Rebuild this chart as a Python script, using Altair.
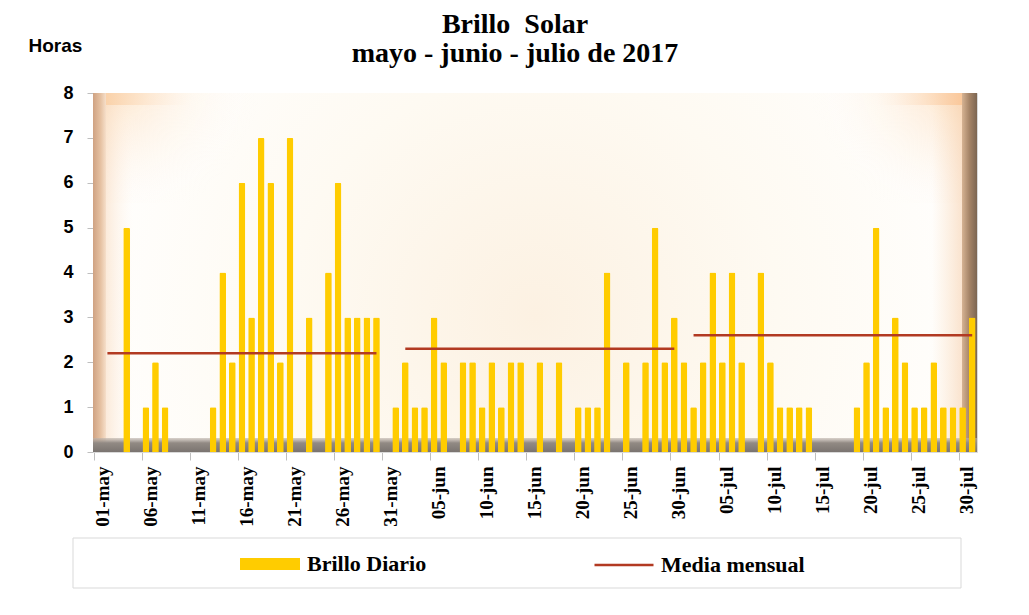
import altair as alt
import pandas as pd

# ---- data ----
meses = ["may", "jun", "jul"]
dias_mes = [31, 30, 31]
mayo = [0, 0, 0, 5, 0, 1, 2, 1, 0, 0, 0, 0, 1, 4, 2, 6, 3, 7, 6, 2, 7, 0, 3, 0, 4, 6, 3, 3, 3, 3, 0]
junio = [1, 2, 1, 1, 3, 2, 0, 2, 2, 1, 2, 1, 2, 2, 0, 2, 0, 2, 0, 1, 1, 1, 4, 0, 2, 0, 2, 5, 2, 3]
julio = [2, 1, 2, 4, 2, 4, 2, 0, 4, 2, 1, 1, 1, 1, 0, 0, 0, 0, 1, 2, 5, 1, 3, 2, 1, 1, 2, 1, 1, 1, 3]

media_inicio = ["02-may", "02-jun", "02-jul"]
media_fin = ["30-may", "30-jun", "31-jul"]
media_valor = [2.2, 2.3, 2.6]

etiquetas = [f"{d:02d}-{m}" for m, n in zip(meses, dias_mes) for d in range(1, n + 1)]
valores = mayo + junio + julio
etiquetas_eje = etiquetas[::5]

df_barras = pd.DataFrame({"dia": etiquetas, "horas": valores, "serie": "Brillo Diario"})
df_media = pd.DataFrame({"inicio": media_inicio, "fin": media_fin, "media": media_valor,
                         "serie": "Media mensual"})
dummy = pd.DataFrame({"k": [0]})

W, H = 884, 359
SERIF = "Liberation Serif"
SANS = "Liberation Sans"


def stops(*pairs):
    return [alt.GradientStop(offset=o, color=c) for o, c in pairs]


def deco(x0, x1, y0, y1, fill, stroke=None):
    kw = {"color": fill}
    if stroke is not None:
        kw["stroke"] = stroke
        kw["strokeWidth"] = 1
    return alt.Chart(dummy).mark_rect(**kw).encode(
        x=alt.value(x0), x2=alt.value(x1), y=alt.value(y0), y2=alt.value(y1))


fondo = deco(0, W, 0, H, alt.RadialGradient(
    gradient="radial", x1=0.5, y1=0.55, r1=0, x2=0.5, y2=0.55, r2=0.55,
    stops=stops((0, "#fcf1e2"), (0.5, "#fefaf2"), (1, "#ffffff"))))
esq_izq = deco(0, 170, 0, 110, alt.RadialGradient(
    gradient="radial", x1=0, y1=0, r1=0, x2=0, y2=0, r2=1,
    stops=stops((0, "rgba(250,205,160,0.95)"), (0.4, "rgba(253,228,200,0.5)"), (1, "rgba(255,255,255,0)"))))
esq_der = deco(W - 170, W, 0, 110, alt.RadialGradient(
    gradient="radial", x1=1, y1=0, r1=0, x2=1, y2=0, r2=1,
    stops=stops((0, "rgba(250,200,150,0.95)"), (0.4, "rgba(253,225,195,0.5)"), (1, "rgba(255,255,255,0)"))))
borde_der_fade = deco(W - 45, W - 15, 0, H, alt.LinearGradient(
    gradient="linear", x1=0, y1=0, x2=1, y2=0,
    stops=stops((0, "rgba(250,215,180,0)"), (1, "rgba(246,205,168,0.55)"))))
borde_izq_fade = deco(13, 40, 0, H, alt.LinearGradient(
    gradient="linear", x1=0, y1=0, x2=1, y2=0,
    stops=stops((0, "rgba(248,218,190,0.55)"), (1, "rgba(255,240,225,0)"))))
bisel_izq = deco(0, 13, 0, H, alt.LinearGradient(
    gradient="linear", x1=0, y1=0, x2=1, y2=0,
    stops=stops((0, "#cfa282"), (0.6, "#e6c2a3"), (1, "#f6dfca"))))
bisel_der = deco(W - 15, W, 0, H, alt.LinearGradient(
    gradient="linear", x1=0, y1=0, x2=1, y2=0,
    stops=stops((0, "#d6b393"), (0.5, "#a58467"), (1, "#7c6652"))))
bisel_sup = deco(13, W - 15, 0, 12, alt.LinearGradient(
    gradient="linear", x1=0, y1=0, x2=1, y2=0,
    stops=stops((0, "rgba(250,210,170,1)"), (0.1, "rgba(255,240,225,0)"),
                (0.9, "rgba(255,240,225,0)"), (1, "rgba(250,200,155,1)"))))
piso = deco(0, W, H - 14, H, alt.LinearGradient(
    gradient="linear", x1=0, y1=0, x2=0, y2=1,
    stops=stops((0, "rgba(190,180,172,0.6)"), (0.35, "#928a84"), (1, "#7a7470"))))
caja_leyenda = deco(-20, 868, 445, 495, "#ffffff", stroke="#d9d9d9")

x_enc = alt.X(
    "dia:N", sort=etiquetas,
    scale=alt.Scale(domain=etiquetas, paddingInner=0.3, paddingOuter=0.15),
    axis=alt.Axis(values=etiquetas_eje, labelAngle=-90, title=None, bandPosition=0,
                  labelOffset=4.8, labelFont=SERIF, labelFontWeight="bold", labelFontSize=19,
                  labelColor="black", labelPadding=6, labelOverlap=False, tickSize=8,
                  tickColor="#bfbfbf", domainColor="#d9d9d9"))

y_enc = alt.Y(
    "horas:Q", scale=alt.Scale(domain=[0, 8], nice=False),
    axis=alt.Axis(values=list(range(0, 9)), title="Horas", titleAngle=0, titleX=-65, titleY=-48,
                  titleAlign="left", titleBaseline="middle", titleFont=SANS, titleFontSize=19,
                  titleFontWeight="bold", titleColor="black", labelFont=SANS,
                  labelFontWeight="bold", labelFontSize=18, labelColor="black", labelPadding=14,
                  tickSize=6, tickColor="#bfbfbf", domainColor="#d9d9d9", grid=False))

barras = alt.Chart(df_barras).mark_bar(cornerRadiusTopLeft=1.5, cornerRadiusTopRight=1.5).encode(
    x=x_enc, y=y_enc,
    color=alt.Color("serie:N", scale=alt.Scale(domain=["Brillo Diario"], range=["#FFCC00"]),
                    legend=alt.Legend(title=None, orient="none", legendX=147, legendY=441,
                                      symbolType="M-1,-0.2H1V0.2H-1Z", symbolSize=3600,
                                      symbolStrokeWidth=0, labelOffset=7, padding=0)))

media = alt.Chart(df_media).mark_rule(strokeWidth=2.5).encode(
    x=alt.X("inicio:N", bandPosition=0.5), x2=alt.X2("fin", bandPosition=0.5),
    y=alt.Y("media:Q"),
    stroke=alt.Stroke("serie:N", scale=alt.Scale(domain=["Media mensual"], range=["#B23A22"]),
                      legend=alt.Legend(title=None, orient="none", legendX=500, legendY=441,
                                        symbolType="stroke", symbolSize=3481,
                                        symbolStrokeWidth=2.5, labelOffset=6, padding=0)))

chart = alt.layer(
    fondo, esq_izq, esq_der, borde_izq_fade, borde_der_fade, bisel_sup, bisel_izq, bisel_der,
    piso, caja_leyenda, barras, media
).properties(
    width=W, height=H,
    padding={"left": 85, "top": 85, "right": 30, "bottom": 140},
    autosize=alt.AutoSizeParams(type="none"),
    background="white",
    title=alt.TitleParams(
        text="Brillo\u00a0\u00a0Solar", subtitle="mayo - junio - julio de 2017",
        font=SERIF, fontSize=28, fontWeight="bold", color="black",
        subtitleFont=SERIF, subtitleFontSize=28, subtitleFontWeight="bold",
        subtitleColor="black", subtitlePadding=1, anchor="middle", frame="group",
        dx=-20, offset=-32),
).configure_view(
    stroke="#d9d9d9", strokeWidth=1
).configure_legend(
    labelFont=SERIF, labelFontSize=22, labelFontWeight="bold", labelColor="black",
    labelLimit=400
)

chart.save("out.html", embed_options={"renderer": "svg", "actions": False})
